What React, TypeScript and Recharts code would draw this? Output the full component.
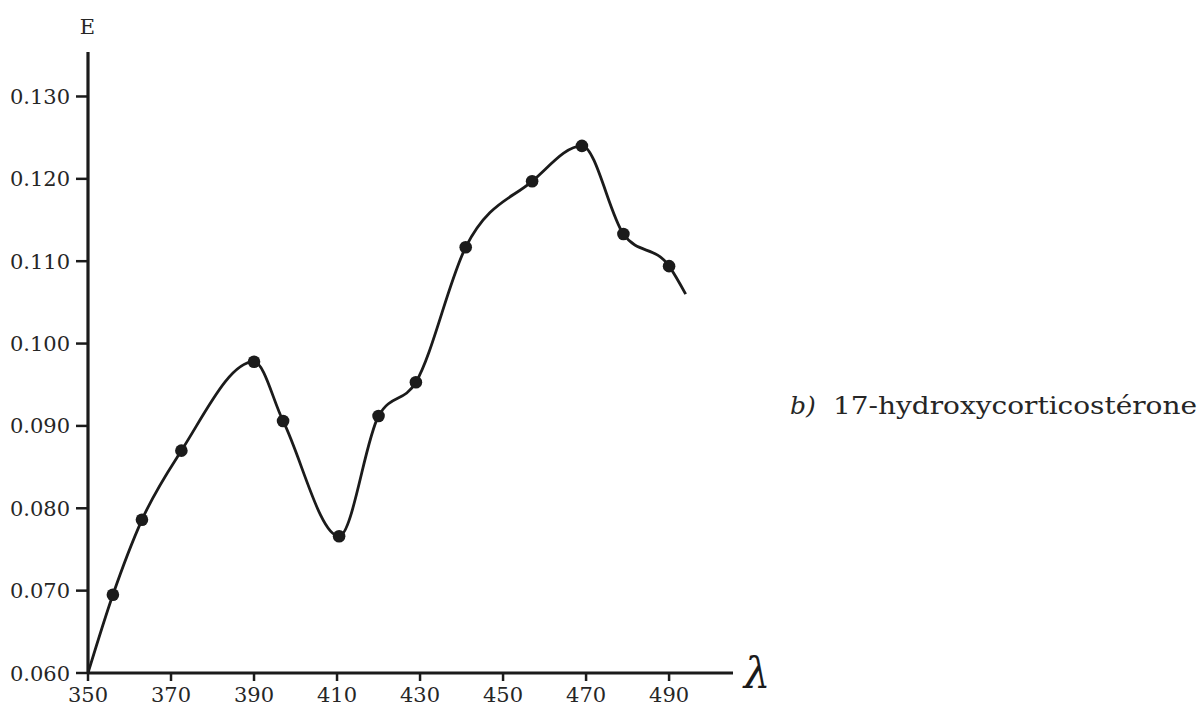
import React from "react";
import { LineChart, Line, XAxis, YAxis } from "recharts";

// Wavelength (nm) and extinction E
const wavelengths = [350, 356, 363, 372.5, 390, 397, 410.5, 420, 429, 441, 457, 469, 479, 490, 494];
const extinction = [0.06, 0.0695, 0.0786, 0.087, 0.0978, 0.0906, 0.0766, 0.0912, 0.0953, 0.1117, 0.1197, 0.124, 0.1133, 0.1094, 0.106];
const measured = [false, true, true, true, true, true, true, true, true, true, true, true, true, true, false];

const xTicks = [350, 370, 390, 410, 430, 450, 470, 490];
const yTicks = [0.06, 0.07, 0.08, 0.09, 0.1, 0.11, 0.12, 0.13];
const yTickLabels = ["0.060", "0.070", "0.080", "0.090", "0.100", "0.110", "0.120", "0.130"];

const xLabel = "λ";
const yLabel = "E";
const noteItalic = "b)";
const noteText = "17-hydroxycorticostérone";

const data = wavelengths.map((wl, i) => ({ wl, e: extinction[i], m: measured[i] }));

const FONT = "'DejaVu Serif', serif";
const INK = "#1b1b1b";

const XTick = (props: any) => {
  const { x, y, payload } = props;
  return (
    <text x={x} y={y + 19} textAnchor="middle" fontFamily={FONT} fontSize={21} fill="#262626">
      {String(payload.value)}
    </text>
  );
};

const YTick = (props: any) => {
  const { x, y, payload } = props;
  const idx = yTicks.findIndex((t) => Math.abs(t - payload.value) < 1e-9);
  return (
    <text x={x - 4} y={y} dy="0.36em" textAnchor="end" fontFamily={FONT} fontSize={21} fill="#262626">
      {idx >= 0 ? yTickLabels[idx] : ""}
    </text>
  );
};

const Dot = (props: any) => {
  const { cx, cy, payload, index } = props;
  if (!payload || !payload.m) return <g key={`d${index}`} />;
  return <circle key={`d${index}`} cx={cx} cy={cy} r={6.3} fill={INK} stroke="none" />;
};

export default function App() {
  return (
    <div style={{ position: "absolute", left: 0, top: 0, width: 1201, height: 706, background: "#fff" }}>
      <LineChart
        width={1201}
        height={706}
        data={data}
        margin={{ top: 52, right: 468, bottom: 0, left: 0 }}
      >
        <XAxis
          type="number"
          dataKey="wl"
          domain={[350, 505.4]}
          ticks={xTicks}
          allowDataOverflow
          height={33}
          tickSize={8}
          axisLine={{ stroke: INK, strokeWidth: 3.2 }}
          tickLine={{ stroke: INK, strokeWidth: 2.5 }}
          tick={<XTick />}
          interval={0}
        />
        <YAxis
          type="number"
          dataKey="e"
          domain={[0.06, 0.1354]}
          ticks={yTicks}
          allowDataOverflow
          width={88}
          tickSize={12}
          axisLine={{ stroke: INK, strokeWidth: 3.2 }}
          tickLine={{ stroke: INK, strokeWidth: 2.5 }}
          tick={<YTick />}
          interval={0}
        />
        <Line
          type="monotone"
          dataKey="e"
          stroke={INK}
          strokeWidth={2.8}
          dot={Dot}
          activeDot={false}
          isAnimationActive={false}
        />
        <text x={87.5} y={34} textAnchor="middle" fontFamily={FONT} fontSize={21} fill="#262626">
          {yLabel}
        </text>
        <text x={757} y={688} textAnchor="middle" fontFamily={FONT} fontStyle="italic" fontSize={42} fill={INK}>
          {xLabel}
        </text>
        <text x={790} y={414} fontFamily={FONT} fontStyle="italic" fontSize={25} fill="#262626">
          {noteItalic}
        </text>
        <text x={833} y={414} fontFamily={FONT} fontSize={25} fill="#262626" textLength={364} lengthAdjust="spacingAndGlyphs">
          {noteText}
        </text>
      </LineChart>
    </div>
  );
}
